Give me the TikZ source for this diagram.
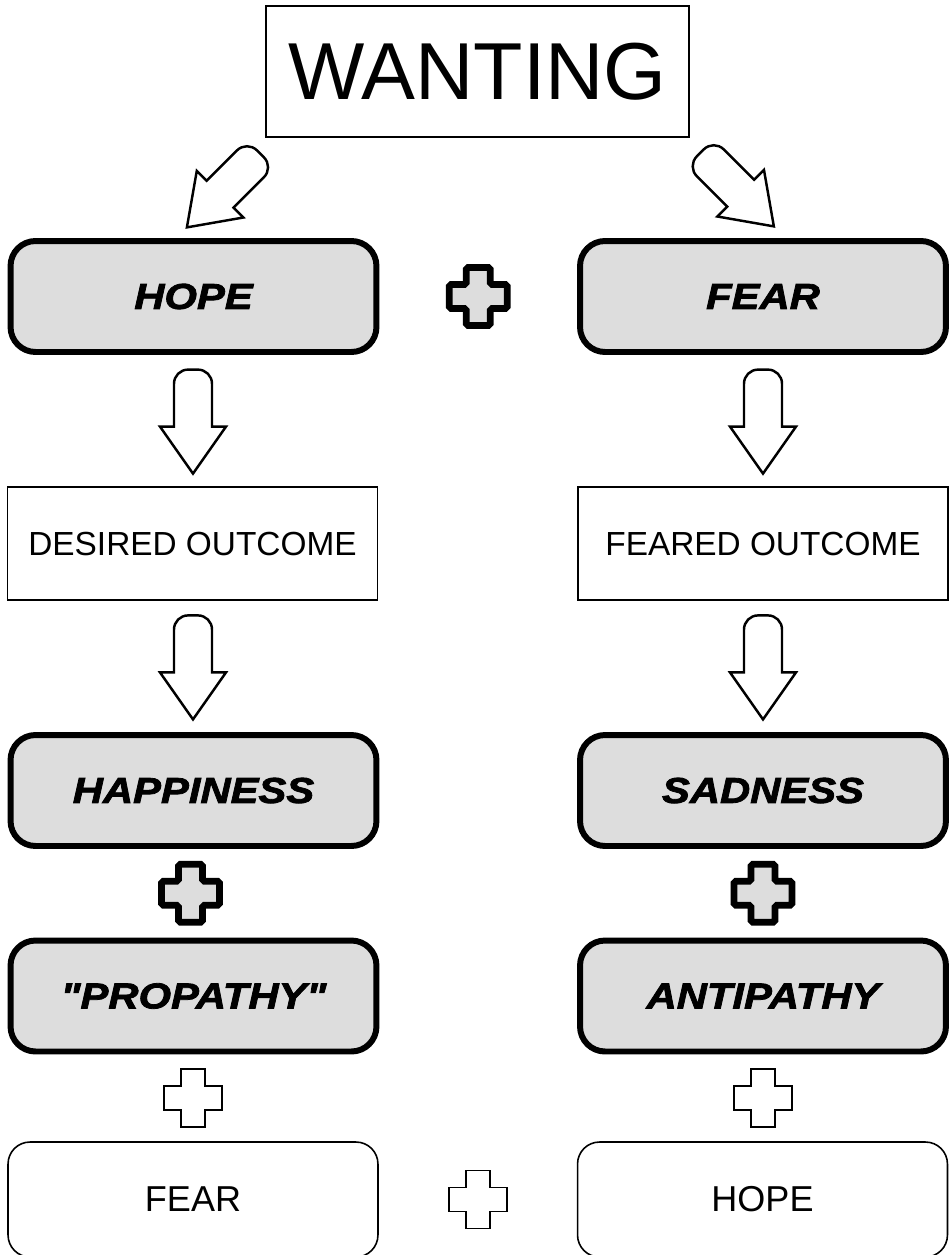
\documentclass[tikz,border=0pt]{standalone}
\usepackage{fontspec}
\setmainfont{Liberation Sans}
\newfontfamily\heavyfont[FakeStretch=1.16, BoldItalicFeatures={FakeBold=2.2}]{Liberation Sans}
\usetikzlibrary{calc}
\definecolor{boxgray}{HTML}{DDDDDD}

\tikzset{
  greybox/.style={draw, line width=3.4pt, fill=boxgray, rounded corners=0.5cm,
    minimum width=7.32cm, minimum height=2.22cm, inner sep=0pt,
    font=\heavyfont\bfseries\itshape\fontsize{20.5}{24}\selectfont},
  plainbox/.style={draw, line width=0.9pt, fill=white,
    minimum width=7.4cm, minimum height=2.26cm, inner sep=0pt,
    font=\fontsize{19}{23}\selectfont},
  softbox/.style={plainbox, rounded corners=0.44cm, minimum height=2.3cm,
    font=\fontsize{20.5}{24}\selectfont},
  plusheavy/.style={line width=3.8pt, fill=boxgray, rounded corners=1pt},
  plusthin/.style={line width=0.9pt, fill=white},
  blockarrow/.pic={
    \draw[line width=1.4pt, fill=white] (-19,6) [rounded corners=8pt] -- (-19,-51) -- (19,-51)
      [sharp corners] -- (19,6) -- (33,6) -- (0,53) -- (-33,6) -- cycle;
  },
  crossmark/.pic={
    \draw[#1] (-12,-29) -- (12,-29) -- (12,-12) -- (29,-12) -- (29,12) -- (12,12)
      -- (12,29) -- (-12,29) -- (-12,12) -- (-29,12) -- (-29,-12) -- (-12,-12) -- cycle;
  }
}

\begin{document}
\begin{tikzpicture}[x=0.02cm,y=-0.02cm]

  \useasboundingbox (0,0) rectangle (952,1255);

  \node[draw, line width=0.9pt, minimum width=8.46cm, minimum height=2.62cm, inner sep=0pt,
    font=\fontsize{46}{50}\selectfont] (wanting) at (477.5,71.5) {WANTING};

  % left column
  \node[greybox] (hope) at (193.5,296.5) {HOPE};
  \node[plainbox] (desired) at (192.5,543.5) {DESIRED OUTCOME};
  \node[greybox] (happiness) at (193.5,790.5) {HAPPINESS};
  \node[greybox] (propathy) at (193.5,996) {"PROPATHY"};
  \node[softbox] (fearlow) at (193,1199.5) {FEAR};

  % right column
  \node[greybox] (fear) at (763,296.5) {FEAR};
  \node[plainbox] (feared) at (763,543.5) {FEARED OUTCOME};
  \node[greybox] (sadness) at (763,790.5) {SADNESS};
  \node[greybox] (antipathy) at (763,996) {ANTIPATHY};
  \node[softbox] (hopelow) at (762.5,1199.5) {HOPE};

  % arrows
  \pic[rotate=-45] at ($(wanting.south west)!0.5!(hope.north)+(-5,2)$) {blockarrow};
  \pic[rotate=45] at ($(wanting.south east)!0.5!(fear.north)+(10,1)$) {blockarrow};
  \pic at ($(hope.south)!0.5!(desired.north)$) {blockarrow};
  \pic at ($(fear.south)!0.5!(feared.north)$) {blockarrow};
  \pic at ($(desired.south)!0.5!(happiness.north)$) {blockarrow};
  \pic at ($(feared.south)!0.5!(sadness.north)$) {blockarrow};

  % plus signs
  \pic at ($(hope.east)!0.5!(fear.west)$) {crossmark=plusheavy};
  \pic at ($(happiness.south)!0.5!(propathy.north)+(-3,0)$) {crossmark=plusheavy};
  \pic at ($(sadness.south)!0.5!(antipathy.north)$) {crossmark=plusheavy};
  \pic at ($(propathy.south)!0.5!(fearlow.north)$) {crossmark=plusthin};
  \pic at ($(antipathy.south)!0.5!(hopelow.north)$) {crossmark=plusthin};
  \pic at ($(fearlow.east)!0.5!(hopelow.west)$) {crossmark=plusthin};

\end{tikzpicture}
\end{document}
